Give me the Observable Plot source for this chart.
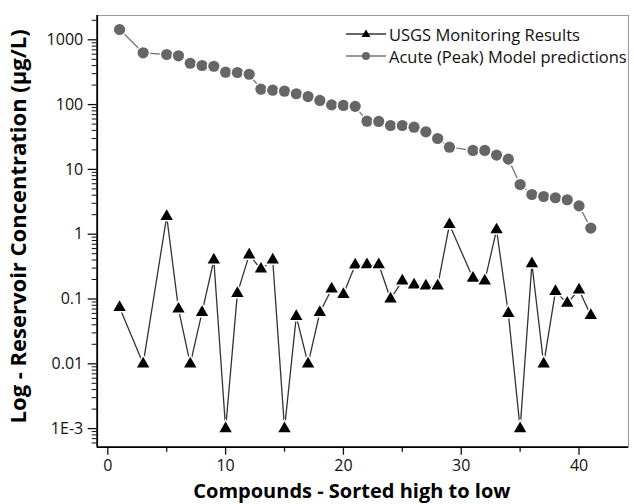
<!DOCTYPE html>
<html><head><meta charset="utf-8">
<script src="https://cdn.jsdelivr.net/npm/d3@7"></script>
<script src="https://cdn.jsdelivr.net/npm/@observablehq/plot@0.6"></script>
<style>
body{margin:0;background:#fff;}
#wrap{position:relative;width:634px;height:504px;}
#legend{position:absolute;left:346px;top:23px;font:16.5px "Open Sans",sans-serif;color:#111;}
.row{display:flex;align-items:center;height:22px;white-space:nowrap;}
.row svg{margin-right:3px;flex:none;}
</style></head><body><div id="wrap"><div id="legend"></div></div>
<script>
// Data
const compounds = [1,3,5,6,7,8,9,10,11,12,13,14,15,16,17,18,19,20,21,22,23,24,25,26,27,28,29,31,32,33,34,35,36,37,38,39,40,41];
const usgsResults = [0.074,0.01,1.88,0.07,0.01,0.062,0.40,0.001,0.122,0.48,0.29,0.40,0.001,0.054,0.01,0.062,0.143,0.118,0.335,0.34,0.34,0.1,0.19,0.165,0.159,0.159,1.41,0.209,0.19,1.17,0.06,0.001,0.35,0.01,0.131,0.086,0.138,0.056];
const modelPredictions = [1442,630,593,566,435,401,391,316,313,294,173,167,161,147,133,116,99,97,94,55.4,55,47.6,47.6,44.8,38,30,22,19.6,19.6,16.6,14.4,5.85,4.1,3.82,3.65,3.4,2.74,1.24];
const seriesNames = ["USGS Monitoring Results","Acute (Peak) Model predictions"];
const xMajorTicks = [0,10,20,30,40];
const xMinorTicks = [5,15,25,35];
const yMajorTicks = [0.001,0.01,0.1,1,10,100,1000];
const yTickLabels = ["1E-3","0.01","0.1","1","10","100","1000"];
const xTitle = "Compounds - Sorted high to low";
const yTitle = "Log - Reservoir Concentration (µg/L)";

const xDomain = [-0.9, 44.2];
const yDomain = [Math.pow(10,-3.287), Math.pow(10,3.375)];
const yMinorTicks = [];
for (let e=-4;e<=3;e++) for (let m=2;m<=9;m++){const v=m*Math.pow(10,e); if(v>=yDomain[0]&&v<=yDomain[1]) yMinorTicks.push(v);}

const data = compounds.map((c,i)=>({x:c, usgs:usgsResults[i], model:modelPredictions[i]}));
const font = '"Open Sans", sans-serif';

const chart = Plot.plot({
  width:634, height:504,
  marginLeft:96.7, marginRight:6, marginTop:15, marginBottom:57.3,
  style:{fontFamily:font, background:"transparent", color:"#111"},
  x:{domain:xDomain},
  y:{type:"log", domain:yDomain},
  marks:[
    Plot.frame({stroke:"#999", strokeWidth:1}),
    Plot.axisX({ticks:xMajorTicks, tickSize:8, tickPadding:4, fontSize:16, tickFormat:d=>String(d), label:null, strokeWidth:1.3}),
    Plot.axisX({ticks:xMinorTicks, tickSize:5, tickFormat:()=>"", label:null, strokeWidth:1.3}),
    Plot.axisY({ticks:yMajorTicks, tickSize:9, tickPadding:5, fontSize:16, tickFormat:d=>yTickLabels[yMajorTicks.indexOf(d)], label:null, strokeWidth:1.3}),
    Plot.axisY({ticks:yMinorTicks, tickSize:5, tickFormat:()=>"", label:null, strokeWidth:1}),
    Plot.ruleX([xDomain[0]], {stroke:"#000", strokeWidth:1.8}),
    Plot.ruleY([yDomain[0]], {stroke:"#000", strokeWidth:1.8}),
    Plot.line(data, {x:"x", y:"model", stroke:"#777", strokeWidth:1.3}),
    Plot.line(data, {x:"x", y:"usgs", stroke:"#333", strokeWidth:1.3}),
    Plot.dot(data, {x:"x", y:"model", r:5.6, fill:"#666", stroke:"#fff", strokeWidth:3, paintOrder:"stroke"}),
    Plot.dot(data, {x:"x", y:"usgs", symbol:"triangle", r:4.6, fill:"#000", stroke:"#fff", strokeWidth:3, paintOrder:"stroke"}),
    Plot.text([xTitle], {text:d=>d, frameAnchor:"bottom", textAnchor:"middle", lineAnchor:"middle", dy:44, dx:-11, fontSize:20, fontWeight:"bold", fill:"#000"}),
    Plot.text([yTitle], {text:d=>d, frameAnchor:"left", textAnchor:"middle", lineAnchor:"middle", rotate:-90, dx:-78, dy:-5, fontSize:22, fontWeight:"bold", fill:"#000"})
  ]
});
document.getElementById("wrap").appendChild(chart);
chart.style.position="absolute"; chart.style.left="0"; chart.style.top="0";
const legend = document.getElementById("legend");
legend.style.zIndex = 2;
seriesNames.forEach((name,i)=>{
  const row = document.createElement("div"); row.className="row";
  const marker = i===0
    ? '<polygon points="20,6.5 24.5,14 15.5,14" fill="#000"/>'
    : '<circle cx="20" cy="11" r="4" fill="#666"/>';
  row.innerHTML = `<svg width="40" height="22"><line x1="0" x2="40" y1="11" y2="11" stroke="${i===0?'#333':'#777'}" stroke-width="1.3"/>${marker}</svg><span>${name}</span>`;
  legend.appendChild(row);
});
</script>
</body></html>
